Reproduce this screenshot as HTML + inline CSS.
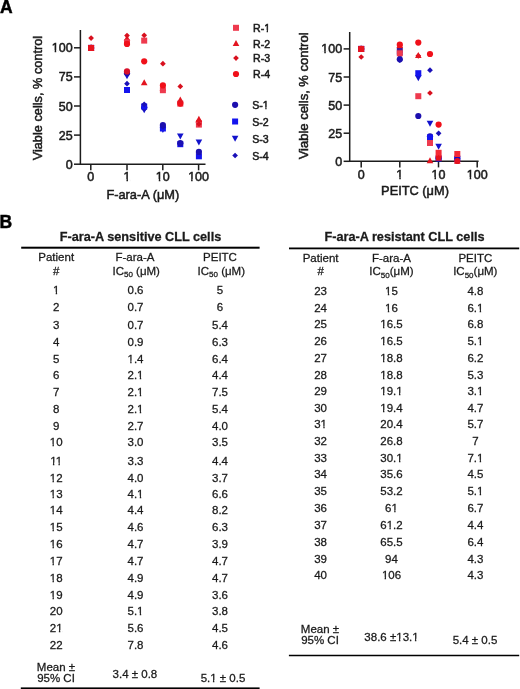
<!DOCTYPE html>
<html><head><meta charset="utf-8"><style>
html,body{margin:0;padding:0;background:#fff;}
body{width:520px;height:689px;overflow:hidden;}
svg{display:block;filter:blur(0.35px);font-family:"Liberation Sans", sans-serif;fill:#1a1a1a;}
text{stroke:#1a1a1a;stroke-width:0.28px;}
text.c{stroke-width:0.5px;}
</style></head><body>
<svg width="520" height="689" viewBox="0 0 520 689">
<text x="0.10" y="12.80" font-size="17.5" text-anchor="start" font-weight="bold" style="stroke:#000;stroke-width:0.45px;fill:#000">A</text>
<text x="-0.40" y="227.50" font-size="17.5" text-anchor="start" font-weight="bold" style="stroke:#000;stroke-width:0.45px;fill:#000">B</text>
<path d="M80.4 30 V164.2 H205.5" stroke="#1c1c1c" stroke-width="1.5" fill="none"/>
<path d="M74 164.20 H80.4" stroke="#1c1c1c" stroke-width="1.5"/>
<text x="72.60" y="168.70" font-size="12.5" text-anchor="end" font-weight="normal" class="c">0</text>
<path d="M74 135.10 H80.4" stroke="#1c1c1c" stroke-width="1.5"/>
<text x="72.60" y="139.60" font-size="12.5" text-anchor="end" font-weight="normal" class="c">25</text>
<path d="M74 106.00 H80.4" stroke="#1c1c1c" stroke-width="1.5"/>
<text x="72.60" y="110.50" font-size="12.5" text-anchor="end" font-weight="normal" class="c">50</text>
<path d="M74 76.90 H80.4" stroke="#1c1c1c" stroke-width="1.5"/>
<text x="72.60" y="81.40" font-size="12.5" text-anchor="end" font-weight="normal" class="c">75</text>
<path d="M74 47.80 H80.4" stroke="#1c1c1c" stroke-width="1.5"/>
<text x="72.60" y="52.30" font-size="12.5" text-anchor="end" font-weight="normal" class="c">100</text>
<path d="M90.8 164.2 V170.3" stroke="#1c1c1c" stroke-width="1.5"/>
<text x="90.80" y="181.20" font-size="12.5" text-anchor="middle" font-weight="normal" class="c">0</text>
<path d="M127.0 164.2 V170.3" stroke="#1c1c1c" stroke-width="1.5"/>
<text x="127.00" y="181.20" font-size="12.5" text-anchor="middle" font-weight="normal" class="c">1</text>
<path d="M162.8 164.2 V170.3" stroke="#1c1c1c" stroke-width="1.5"/>
<text x="162.80" y="181.20" font-size="12.5" text-anchor="middle" font-weight="normal" class="c">10</text>
<path d="M198.6 164.2 V170.3" stroke="#1c1c1c" stroke-width="1.5"/>
<text x="198.60" y="181.20" font-size="12.5" text-anchor="middle" font-weight="normal" class="c">100</text>
<text x="142.80" y="198.60" font-size="12.8" text-anchor="middle" font-weight="normal" class="c">F-ara-A (μM)</text>
<text x="41.60" y="98.10" font-size="12.75" text-anchor="middle" font-weight="normal" class="c" transform="rotate(-90 41.6 98.1)">Viable cells, % control</text>
<circle cx="91.10" cy="47.90" r="3.10" fill="#1c0fae"/>
<rect x="88.10" y="44.90" width="6.00" height="6.00" fill="#1414ee"/>
<path d="M91.10 51.10L94.40 45.10L87.80 45.10Z" fill="#1212cc"/>
<path d="M91.10 45.05L93.95 47.90L91.10 50.75L88.25 47.90Z" fill="#1a10b8"/>
<path d="M91.10 44.70L94.40 50.70L87.80 50.70Z" fill="#e3141f"/>
<circle cx="91.10" cy="47.90" r="3.10" fill="#f0101a"/>
<path d="M91.10 35.25L93.95 38.10L91.10 40.95L88.25 38.10Z" fill="#d8101e"/>
<rect x="88.10" y="44.90" width="6.00" height="6.00" fill="#e8141e"/>
<path d="M127.00 35.00L130.30 41.00L123.70 41.00Z" fill="#e3141f"/>
<path d="M127.00 32.75L129.85 35.60L127.00 38.45L124.15 35.60Z" fill="#d8101e"/>
<rect x="124.00" y="39.20" width="6.00" height="6.00" fill="#ee3a4e"/>
<circle cx="127.00" cy="43.90" r="3.10" fill="#f0101a"/>
<path d="M127.00 79.20L130.30 73.20L123.70 73.20Z" fill="#1212cc"/>
<circle cx="127.00" cy="73.00" r="3.10" fill="#1c0fae"/>
<circle cx="127.00" cy="71.40" r="3.10" fill="#d8102a"/>
<path d="M127.00 80.85L129.85 83.70L127.00 86.55L124.15 83.70Z" fill="#1a10b8"/>
<rect x="124.00" y="87.00" width="6.00" height="6.00" fill="#1414ee"/>
<path d="M144.20 32.45L147.05 35.30L144.20 38.15L141.35 35.30Z" fill="#d8101e"/>
<rect x="141.20" y="37.60" width="6.00" height="6.00" fill="#ee3a4e"/>
<circle cx="144.20" cy="61.30" r="3.10" fill="#f0101a"/>
<path d="M144.20 79.20L147.50 85.20L140.90 85.20Z" fill="#e3141f"/>
<path d="M144.20 113.20L147.50 107.20L140.90 107.20Z" fill="#1212cc"/>
<circle cx="144.20" cy="107.50" r="3.10" fill="#1c0fae"/>
<rect x="141.20" y="103.50" width="6.00" height="6.00" fill="#1414ee"/>
<path d="M144.20 101.45L147.05 104.30L144.20 107.15L141.35 104.30Z" fill="#1a10b8"/>
<path d="M162.90 60.85L165.75 63.70L162.90 66.55L160.05 63.70Z" fill="#d8101e"/>
<path d="M162.90 84.80L166.20 90.80L159.60 90.80Z" fill="#e3141f"/>
<rect x="159.90" y="87.20" width="6.00" height="6.00" fill="#ee3a4e"/>
<circle cx="162.90" cy="85.40" r="3.10" fill="#f0101a"/>
<path d="M162.90 132.90L166.20 126.90L159.60 126.90Z" fill="#1212cc"/>
<rect x="159.90" y="125.50" width="6.00" height="6.00" fill="#1414ee"/>
<path d="M162.90 124.15L165.75 127.00L162.90 129.85L160.05 127.00Z" fill="#1a10b8"/>
<circle cx="162.90" cy="125.10" r="3.10" fill="#1c0fae"/>
<path d="M180.30 83.55L183.15 86.40L180.30 89.25L177.45 86.40Z" fill="#d8101e"/>
<rect x="177.30" y="100.60" width="6.00" height="6.00" fill="#ee3a4e"/>
<circle cx="180.30" cy="103.60" r="3.10" fill="#f0101a"/>
<path d="M180.30 96.60L183.60 102.60L177.00 102.60Z" fill="#e3141f"/>
<path d="M180.30 139.50L183.60 133.50L177.00 133.50Z" fill="#1212cc"/>
<rect x="177.30" y="141.20" width="6.00" height="6.00" fill="#1414ee"/>
<circle cx="180.30" cy="143.20" r="3.10" fill="#1c0fae"/>
<path d="M180.30 140.95L183.15 143.80L180.30 146.65L177.45 143.80Z" fill="#1a10b8"/>
<circle cx="198.90" cy="122.30" r="3.10" fill="#f0101a"/>
<rect x="195.90" y="121.60" width="6.00" height="6.00" fill="#ee3a4e"/>
<path d="M198.90 121.15L201.75 124.00L198.90 126.85L196.05 124.00Z" fill="#d8101e"/>
<path d="M198.90 115.70L202.20 121.70L195.60 121.70Z" fill="#e3141f"/>
<path d="M198.90 145.40L202.20 139.40L195.60 139.40Z" fill="#1212cc"/>
<path d="M198.90 152.15L201.75 155.00L198.90 157.85L196.05 155.00Z" fill="#1a10b8"/>
<rect x="195.90" y="153.30" width="6.00" height="6.00" fill="#1414ee"/>
<circle cx="198.90" cy="151.90" r="3.10" fill="#1c0fae"/>
<rect x="233.00" y="24.80" width="6.00" height="6.00" fill="#ee3a4e"/>
<text x="253.00" y="32.10" font-size="10.6" text-anchor="start" font-weight="normal" class="c">R-1</text>
<path d="M236.00 40.00L239.30 46.00L232.70 46.00Z" fill="#e3141f"/>
<text x="253.00" y="47.50" font-size="10.6" text-anchor="start" font-weight="normal" class="c">R-2</text>
<path d="M236.00 55.25L238.85 58.10L236.00 60.95L233.15 58.10Z" fill="#d8101e"/>
<text x="253.00" y="62.40" font-size="10.6" text-anchor="start" font-weight="normal" class="c">R-3</text>
<circle cx="236.00" cy="74.00" r="3.10" fill="#f0101a"/>
<text x="253.00" y="78.30" font-size="10.6" text-anchor="start" font-weight="normal" class="c">R-4</text>
<circle cx="235.10" cy="104.80" r="3.10" fill="#1c0fae"/>
<text x="252.20" y="109.10" font-size="10.6" text-anchor="start" font-weight="normal" class="c">S-1</text>
<rect x="232.10" y="118.50" width="6.00" height="6.00" fill="#1414ee"/>
<text x="252.20" y="125.80" font-size="10.6" text-anchor="start" font-weight="normal" class="c">S-2</text>
<path d="M235.10 141.70L238.40 135.70L231.80 135.70Z" fill="#1212cc"/>
<text x="252.20" y="142.80" font-size="10.6" text-anchor="start" font-weight="normal" class="c">S-3</text>
<path d="M235.10 152.65L237.95 155.50L235.10 158.35L232.25 155.50Z" fill="#1a10b8"/>
<text x="252.20" y="159.80" font-size="10.6" text-anchor="start" font-weight="normal" class="c">S-4</text>
<path d="M349.7 32 V161.3 H478.6" stroke="#1c1c1c" stroke-width="1.5" fill="none"/>
<path d="M343.6 161.30 H349.7" stroke="#1c1c1c" stroke-width="1.5"/>
<text x="342.20" y="165.80" font-size="12.5" text-anchor="end" font-weight="normal" class="c">0</text>
<path d="M343.6 133.20 H349.7" stroke="#1c1c1c" stroke-width="1.5"/>
<text x="342.20" y="137.70" font-size="12.5" text-anchor="end" font-weight="normal" class="c">25</text>
<path d="M343.6 105.10 H349.7" stroke="#1c1c1c" stroke-width="1.5"/>
<text x="342.20" y="109.60" font-size="12.5" text-anchor="end" font-weight="normal" class="c">50</text>
<path d="M343.6 77.00 H349.7" stroke="#1c1c1c" stroke-width="1.5"/>
<text x="342.20" y="81.50" font-size="12.5" text-anchor="end" font-weight="normal" class="c">75</text>
<path d="M343.6 48.90 H349.7" stroke="#1c1c1c" stroke-width="1.5"/>
<text x="342.20" y="53.40" font-size="12.5" text-anchor="end" font-weight="normal" class="c">100</text>
<path d="M361.2 161.3 V167.4" stroke="#1c1c1c" stroke-width="1.5"/>
<text x="361.20" y="179.20" font-size="12.5" text-anchor="middle" font-weight="normal" class="c">0</text>
<path d="M399.8 161.3 V167.4" stroke="#1c1c1c" stroke-width="1.5"/>
<text x="399.80" y="179.20" font-size="12.5" text-anchor="middle" font-weight="normal" class="c">1</text>
<path d="M438.5 161.3 V167.4" stroke="#1c1c1c" stroke-width="1.5"/>
<text x="438.50" y="179.20" font-size="12.5" text-anchor="middle" font-weight="normal" class="c">10</text>
<path d="M477.2 161.3 V167.4" stroke="#1c1c1c" stroke-width="1.5"/>
<text x="477.20" y="179.20" font-size="12.5" text-anchor="middle" font-weight="normal" class="c">100</text>
<text x="415.00" y="194.60" font-size="12.8" text-anchor="middle" font-weight="normal" class="c">PEITC (μM)</text>
<text x="307.80" y="95.90" font-size="13.0" text-anchor="middle" font-weight="normal" class="c" transform="rotate(-90 307.8 95.9)">Viable cells, % control</text>
<circle cx="361.20" cy="48.90" r="3.10" fill="#1c0fae"/>
<rect x="358.20" y="45.90" width="6.00" height="6.00" fill="#1414ee"/>
<path d="M361.20 52.10L364.50 46.10L357.90 46.10Z" fill="#1212cc"/>
<path d="M361.20 46.05L364.05 48.90L361.20 51.75L358.35 48.90Z" fill="#1a10b8"/>
<path d="M361.20 45.70L364.50 51.70L357.90 51.70Z" fill="#e3141f"/>
<circle cx="361.20" cy="48.90" r="3.10" fill="#f0101a"/>
<path d="M361.20 54.15L364.05 57.00L361.20 59.85L358.35 57.00Z" fill="#d8101e"/>
<rect x="358.20" y="45.90" width="6.00" height="6.00" fill="#e8141e"/>
<path d="M399.80 59.70L403.10 53.70L396.50 53.70Z" fill="#1212cc"/>
<path d="M399.80 57.35L402.65 60.20L399.80 63.05L396.95 60.20Z" fill="#1a10b8"/>
<circle cx="399.80" cy="59.30" r="3.10" fill="#1c0fae"/>
<rect x="396.80" y="47.50" width="6.00" height="6.00" fill="#4a1890"/>
<path d="M399.80 42.00L403.10 48.00L396.50 48.00Z" fill="#e3141f"/>
<path d="M399.80 42.65L402.65 45.50L399.80 48.35L396.95 45.50Z" fill="#d8101e"/>
<circle cx="399.80" cy="44.70" r="3.10" fill="#f0101a"/>
<rect x="396.80" y="50.30" width="6.00" height="6.00" fill="#ee3a4e"/>
<circle cx="418.30" cy="42.60" r="3.10" fill="#f0101a"/>
<path d="M418.30 52.95L421.15 55.80L418.30 58.65L415.45 55.80Z" fill="#d8101e"/>
<path d="M418.30 52.00L421.60 58.00L415.00 58.00Z" fill="#e3141f"/>
<path d="M418.30 72.65L421.15 75.50L418.30 78.35L415.45 75.50Z" fill="#1a10b8"/>
<path d="M418.30 81.30L421.60 75.30L415.00 75.30Z" fill="#1212cc"/>
<rect x="415.30" y="70.20" width="6.00" height="6.00" fill="#1414ee"/>
<rect x="415.30" y="93.20" width="6.00" height="6.00" fill="#ee3a4e"/>
<circle cx="418.30" cy="116.00" r="3.10" fill="#1c0fae"/>
<circle cx="430.00" cy="54.00" r="3.10" fill="#f0101a"/>
<path d="M430.00 67.35L432.85 70.20L430.00 73.05L427.15 70.20Z" fill="#1a10b8"/>
<path d="M430.00 90.15L432.85 93.00L430.00 95.85L427.15 93.00Z" fill="#d8101e"/>
<path d="M430.00 126.70L433.30 120.70L426.70 120.70Z" fill="#1212cc"/>
<circle cx="430.00" cy="136.30" r="3.10" fill="#1c0fae"/>
<rect x="427.00" y="134.50" width="6.00" height="6.00" fill="#1414ee"/>
<rect x="427.00" y="140.00" width="6.00" height="6.00" fill="#ee3a4e"/>
<path d="M430.00 157.20L433.30 163.20L426.70 163.20Z" fill="#e3141f"/>
<circle cx="438.60" cy="124.60" r="3.10" fill="#f0101a"/>
<path d="M438.60 130.45L441.45 133.30L438.60 136.15L435.75 133.30Z" fill="#1a10b8"/>
<path d="M438.60 149.80L441.90 143.80L435.30 143.80Z" fill="#1212cc"/>
<circle cx="438.60" cy="158.30" r="3.10" fill="#1c0fae"/>
<rect x="435.60" y="155.50" width="6.00" height="6.00" fill="#1414ee"/>
<path d="M438.60 153.15L441.45 156.00L438.60 158.85L435.75 156.00Z" fill="#d8101e"/>
<circle cx="438.60" cy="157.00" r="3.10" fill="#f0101a"/>
<rect x="435.60" y="149.80" width="6.00" height="6.00" fill="#f42a36"/>
<path d="M438.60 154.80L441.90 160.80L435.30 160.80Z" fill="#e3141f"/>
<circle cx="457.30" cy="158.50" r="3.10" fill="#1c0fae"/>
<rect x="454.30" y="156.00" width="6.00" height="6.00" fill="#1414ee"/>
<path d="M457.30 161.70L460.60 155.70L454.00 155.70Z" fill="#1212cc"/>
<path d="M457.30 155.65L460.15 158.50L457.30 161.35L454.45 158.50Z" fill="#1a10b8"/>
<rect x="454.30" y="151.00" width="6.00" height="6.00" fill="#f42a36"/>
<circle cx="457.30" cy="161.00" r="3.10" fill="#e0102a"/>
<path d="M457.30 157.80L460.60 163.80L454.00 163.80Z" fill="#e3141f"/>
<text x="140.50" y="240.50" font-size="12.7" text-anchor="middle" font-weight="bold" >F-ara-A sensitive CLL cells</text>
<rect x="21.2" y="246.70" width="238.40000000000003" height="2.0" fill="#000"/>
<text x="56.20" y="261.00" font-size="11.5" text-anchor="middle" font-weight="normal" >Patient</text>
<text x="56.20" y="274.60" font-size="11.5" text-anchor="middle" font-weight="normal" >#</text>
<text x="135.00" y="261.00" font-size="11.5" text-anchor="middle" font-weight="normal" >F-ara-A</text>
<text x="220.00" y="261.00" font-size="11.5" text-anchor="middle" font-weight="normal" >PEITC</text>
<text x="136.20" y="274.60" font-size="11.5" text-anchor="middle">IC<tspan font-size="8" dy="2.8">50</tspan><tspan dy="-2.8"> (μM)</tspan></text>
<text x="221.30" y="274.60" font-size="11.5" text-anchor="middle">IC<tspan font-size="8" dy="2.8">50</tspan><tspan dy="-2.8"> (μM)</tspan></text>
<text x="56.20" y="293.90" font-size="11.5" text-anchor="middle" font-weight="normal" >1</text>
<text x="135.50" y="293.90" font-size="11.5" text-anchor="middle" font-weight="normal" >0.6</text>
<text x="220.00" y="293.90" font-size="11.5" text-anchor="middle" font-weight="normal" >5</text>
<text x="56.20" y="311.34" font-size="11.5" text-anchor="middle" font-weight="normal" >2</text>
<text x="135.50" y="311.34" font-size="11.5" text-anchor="middle" font-weight="normal" >0.7</text>
<text x="220.00" y="311.34" font-size="11.5" text-anchor="middle" font-weight="normal" >6</text>
<text x="56.20" y="328.98" font-size="11.5" text-anchor="middle" font-weight="normal" >3</text>
<text x="135.50" y="328.98" font-size="11.5" text-anchor="middle" font-weight="normal" >0.7</text>
<text x="220.00" y="328.98" font-size="11.5" text-anchor="middle" font-weight="normal" >5.4</text>
<text x="56.20" y="345.82" font-size="11.5" text-anchor="middle" font-weight="normal" >4</text>
<text x="135.50" y="345.82" font-size="11.5" text-anchor="middle" font-weight="normal" >0.9</text>
<text x="220.00" y="345.82" font-size="11.5" text-anchor="middle" font-weight="normal" >6.3</text>
<text x="56.20" y="362.66" font-size="11.5" text-anchor="middle" font-weight="normal" >5</text>
<text x="135.50" y="362.66" font-size="11.5" text-anchor="middle" font-weight="normal" >1.4</text>
<text x="220.00" y="362.66" font-size="11.5" text-anchor="middle" font-weight="normal" >6.4</text>
<text x="56.20" y="379.00" font-size="11.5" text-anchor="middle" font-weight="normal" >6</text>
<text x="135.50" y="379.00" font-size="11.5" text-anchor="middle" font-weight="normal" >2.1</text>
<text x="220.00" y="379.00" font-size="11.5" text-anchor="middle" font-weight="normal" >4.4</text>
<text x="56.20" y="395.94" font-size="11.5" text-anchor="middle" font-weight="normal" >7</text>
<text x="135.50" y="395.94" font-size="11.5" text-anchor="middle" font-weight="normal" >2.1</text>
<text x="220.00" y="395.94" font-size="11.5" text-anchor="middle" font-weight="normal" >7.5</text>
<text x="56.20" y="413.18" font-size="11.5" text-anchor="middle" font-weight="normal" >8</text>
<text x="135.50" y="413.18" font-size="11.5" text-anchor="middle" font-weight="normal" >2.1</text>
<text x="220.00" y="413.18" font-size="11.5" text-anchor="middle" font-weight="normal" >5.4</text>
<text x="56.20" y="430.32" font-size="11.5" text-anchor="middle" font-weight="normal" >9</text>
<text x="135.50" y="430.32" font-size="11.5" text-anchor="middle" font-weight="normal" >2.7</text>
<text x="220.00" y="430.32" font-size="11.5" text-anchor="middle" font-weight="normal" >4.0</text>
<text x="56.20" y="446.36" font-size="11.5" text-anchor="middle" font-weight="normal" >10</text>
<text x="135.50" y="446.36" font-size="11.5" text-anchor="middle" font-weight="normal" >3.0</text>
<text x="220.00" y="446.36" font-size="11.5" text-anchor="middle" font-weight="normal" >3.5</text>
<text x="56.20" y="464.60" font-size="11.5" text-anchor="middle" font-weight="normal" >11</text>
<text x="135.50" y="464.60" font-size="11.5" text-anchor="middle" font-weight="normal" >3.3</text>
<text x="220.00" y="464.60" font-size="11.5" text-anchor="middle" font-weight="normal" >4.4</text>
<text x="56.20" y="481.54" font-size="11.5" text-anchor="middle" font-weight="normal" >12</text>
<text x="135.50" y="481.54" font-size="11.5" text-anchor="middle" font-weight="normal" >4.0</text>
<text x="220.00" y="481.54" font-size="11.5" text-anchor="middle" font-weight="normal" >3.7</text>
<text x="56.20" y="497.58" font-size="11.5" text-anchor="middle" font-weight="normal" >13</text>
<text x="135.50" y="497.58" font-size="11.5" text-anchor="middle" font-weight="normal" >4.1</text>
<text x="220.00" y="497.58" font-size="11.5" text-anchor="middle" font-weight="normal" >6.6</text>
<text x="56.20" y="514.42" font-size="11.5" text-anchor="middle" font-weight="normal" >14</text>
<text x="135.50" y="514.42" font-size="11.5" text-anchor="middle" font-weight="normal" >4.4</text>
<text x="220.00" y="514.42" font-size="11.5" text-anchor="middle" font-weight="normal" >8.2</text>
<text x="56.20" y="531.06" font-size="11.5" text-anchor="middle" font-weight="normal" >15</text>
<text x="135.50" y="531.06" font-size="11.5" text-anchor="middle" font-weight="normal" >4.6</text>
<text x="220.00" y="531.06" font-size="11.5" text-anchor="middle" font-weight="normal" >6.3</text>
<text x="56.20" y="547.80" font-size="11.5" text-anchor="middle" font-weight="normal" >16</text>
<text x="135.50" y="547.80" font-size="11.5" text-anchor="middle" font-weight="normal" >4.7</text>
<text x="220.00" y="547.80" font-size="11.5" text-anchor="middle" font-weight="normal" >3.9</text>
<text x="56.20" y="564.94" font-size="11.5" text-anchor="middle" font-weight="normal" >17</text>
<text x="135.50" y="564.94" font-size="11.5" text-anchor="middle" font-weight="normal" >4.7</text>
<text x="220.00" y="564.94" font-size="11.5" text-anchor="middle" font-weight="normal" >4.7</text>
<text x="56.20" y="581.88" font-size="11.5" text-anchor="middle" font-weight="normal" >18</text>
<text x="135.50" y="581.88" font-size="11.5" text-anchor="middle" font-weight="normal" >4.9</text>
<text x="220.00" y="581.88" font-size="11.5" text-anchor="middle" font-weight="normal" >4.7</text>
<text x="56.20" y="598.82" font-size="11.5" text-anchor="middle" font-weight="normal" >19</text>
<text x="135.50" y="598.82" font-size="11.5" text-anchor="middle" font-weight="normal" >4.9</text>
<text x="220.00" y="598.82" font-size="11.5" text-anchor="middle" font-weight="normal" >3.6</text>
<text x="56.20" y="615.26" font-size="11.5" text-anchor="middle" font-weight="normal" >20</text>
<text x="135.50" y="615.26" font-size="11.5" text-anchor="middle" font-weight="normal" >5.1</text>
<text x="220.00" y="615.26" font-size="11.5" text-anchor="middle" font-weight="normal" >3.8</text>
<text x="56.20" y="632.10" font-size="11.5" text-anchor="middle" font-weight="normal" >21</text>
<text x="135.50" y="632.10" font-size="11.5" text-anchor="middle" font-weight="normal" >5.6</text>
<text x="220.00" y="632.10" font-size="11.5" text-anchor="middle" font-weight="normal" >4.5</text>
<text x="56.20" y="649.34" font-size="11.5" text-anchor="middle" font-weight="normal" >22</text>
<text x="135.50" y="649.34" font-size="11.5" text-anchor="middle" font-weight="normal" >7.8</text>
<text x="220.00" y="649.34" font-size="11.5" text-anchor="middle" font-weight="normal" >4.6</text>
<text x="56.00" y="670.50" font-size="11.5" text-anchor="middle" font-weight="normal" >Mean ±</text>
<text x="56.00" y="681.50" font-size="11.5" text-anchor="middle" font-weight="normal" >95% CI</text>
<text x="134.90" y="677.80" font-size="11.5" text-anchor="middle" font-weight="normal" >3.4 ± 0.8</text>
<text x="223.00" y="682.00" font-size="11.5" text-anchor="middle" font-weight="normal" >5.1 ± 0.5</text>
<rect x="20.8" y="687.40" width="238.8" height="2.0" fill="#000"/>
<text x="404.50" y="241.40" font-size="12.7" text-anchor="middle" font-weight="bold" >F-ara-A resistant CLL cells</text>
<rect x="289.0" y="247.50" width="230.20000000000005" height="1.8" fill="#000"/>
<text x="320.60" y="261.70" font-size="11.5" text-anchor="middle" font-weight="normal" >Patient</text>
<text x="320.60" y="275.00" font-size="11.5" text-anchor="middle" font-weight="normal" >#</text>
<text x="391.50" y="261.70" font-size="11.5" text-anchor="middle" font-weight="normal" >F-ara-A</text>
<text x="475.40" y="261.70" font-size="11.5" text-anchor="middle" font-weight="normal" >PEITC</text>
<text x="391.50" y="275.00" font-size="11.5" text-anchor="middle">IC<tspan font-size="8" dy="2.8">50</tspan><tspan dy="-2.8">(μM)</tspan></text>
<text x="475.30" y="275.00" font-size="11.5" text-anchor="middle">IC<tspan font-size="8" dy="2.8">50</tspan><tspan dy="-2.8">(μM)</tspan></text>
<text x="320.60" y="294.80" font-size="11.5" text-anchor="middle" font-weight="normal" >23</text>
<text x="391.50" y="294.80" font-size="11.5" text-anchor="middle" font-weight="normal" >15</text>
<text x="475.40" y="294.80" font-size="11.5" text-anchor="middle" font-weight="normal" >4.8</text>
<text x="320.60" y="311.54" font-size="11.5" text-anchor="middle" font-weight="normal" >24</text>
<text x="391.50" y="311.54" font-size="11.5" text-anchor="middle" font-weight="normal" >16</text>
<text x="475.40" y="311.54" font-size="11.5" text-anchor="middle" font-weight="normal" >6.1</text>
<text x="320.60" y="328.28" font-size="11.5" text-anchor="middle" font-weight="normal" >25</text>
<text x="391.50" y="328.28" font-size="11.5" text-anchor="middle" font-weight="normal" >16.5</text>
<text x="475.40" y="328.28" font-size="11.5" text-anchor="middle" font-weight="normal" >6.8</text>
<text x="320.60" y="345.02" font-size="11.5" text-anchor="middle" font-weight="normal" >26</text>
<text x="391.50" y="345.02" font-size="11.5" text-anchor="middle" font-weight="normal" >16.5</text>
<text x="475.40" y="345.02" font-size="11.5" text-anchor="middle" font-weight="normal" >5.1</text>
<text x="320.60" y="361.76" font-size="11.5" text-anchor="middle" font-weight="normal" >27</text>
<text x="391.50" y="361.76" font-size="11.5" text-anchor="middle" font-weight="normal" >18.8</text>
<text x="475.40" y="361.76" font-size="11.5" text-anchor="middle" font-weight="normal" >6.2</text>
<text x="320.60" y="378.50" font-size="11.5" text-anchor="middle" font-weight="normal" >28</text>
<text x="391.50" y="378.50" font-size="11.5" text-anchor="middle" font-weight="normal" >18.8</text>
<text x="475.40" y="378.50" font-size="11.5" text-anchor="middle" font-weight="normal" >5.3</text>
<text x="320.60" y="394.94" font-size="11.5" text-anchor="middle" font-weight="normal" >29</text>
<text x="391.50" y="394.94" font-size="11.5" text-anchor="middle" font-weight="normal" >19.1</text>
<text x="475.40" y="394.94" font-size="11.5" text-anchor="middle" font-weight="normal" >3.1</text>
<text x="320.60" y="411.98" font-size="11.5" text-anchor="middle" font-weight="normal" >30</text>
<text x="391.50" y="411.98" font-size="11.5" text-anchor="middle" font-weight="normal" >19.4</text>
<text x="475.40" y="411.98" font-size="11.5" text-anchor="middle" font-weight="normal" >4.7</text>
<text x="320.60" y="427.92" font-size="11.5" text-anchor="middle" font-weight="normal" >31</text>
<text x="391.50" y="427.92" font-size="11.5" text-anchor="middle" font-weight="normal" >20.4</text>
<text x="475.40" y="427.92" font-size="11.5" text-anchor="middle" font-weight="normal" >5.7</text>
<text x="320.60" y="444.96" font-size="11.5" text-anchor="middle" font-weight="normal" >32</text>
<text x="391.50" y="444.96" font-size="11.5" text-anchor="middle" font-weight="normal" >26.8</text>
<text x="475.40" y="444.96" font-size="11.5" text-anchor="middle" font-weight="normal" >7</text>
<text x="320.60" y="461.70" font-size="11.5" text-anchor="middle" font-weight="normal" >33</text>
<text x="391.50" y="461.70" font-size="11.5" text-anchor="middle" font-weight="normal" >30.1</text>
<text x="475.40" y="461.70" font-size="11.5" text-anchor="middle" font-weight="normal" >7.1</text>
<text x="320.60" y="477.84" font-size="11.5" text-anchor="middle" font-weight="normal" >34</text>
<text x="391.50" y="477.84" font-size="11.5" text-anchor="middle" font-weight="normal" >35.6</text>
<text x="475.40" y="477.84" font-size="11.5" text-anchor="middle" font-weight="normal" >4.5</text>
<text x="320.60" y="494.68" font-size="11.5" text-anchor="middle" font-weight="normal" >35</text>
<text x="391.50" y="494.68" font-size="11.5" text-anchor="middle" font-weight="normal" >53.2</text>
<text x="475.40" y="494.68" font-size="11.5" text-anchor="middle" font-weight="normal" >5.1</text>
<text x="320.60" y="512.12" font-size="11.5" text-anchor="middle" font-weight="normal" >36</text>
<text x="391.50" y="512.12" font-size="11.5" text-anchor="middle" font-weight="normal" >61</text>
<text x="475.40" y="512.12" font-size="11.5" text-anchor="middle" font-weight="normal" >6.7</text>
<text x="320.60" y="529.16" font-size="11.5" text-anchor="middle" font-weight="normal" >37</text>
<text x="391.50" y="529.16" font-size="11.5" text-anchor="middle" font-weight="normal" >61.2</text>
<text x="475.40" y="529.16" font-size="11.5" text-anchor="middle" font-weight="normal" >4.4</text>
<text x="320.60" y="545.90" font-size="11.5" text-anchor="middle" font-weight="normal" >38</text>
<text x="391.50" y="545.90" font-size="11.5" text-anchor="middle" font-weight="normal" >65.5</text>
<text x="475.40" y="545.90" font-size="11.5" text-anchor="middle" font-weight="normal" >6.4</text>
<text x="320.60" y="562.64" font-size="11.5" text-anchor="middle" font-weight="normal" >39</text>
<text x="391.50" y="562.64" font-size="11.5" text-anchor="middle" font-weight="normal" >94</text>
<text x="475.40" y="562.64" font-size="11.5" text-anchor="middle" font-weight="normal" >4.3</text>
<text x="320.60" y="579.38" font-size="11.5" text-anchor="middle" font-weight="normal" >40</text>
<text x="391.50" y="579.38" font-size="11.5" text-anchor="middle" font-weight="normal" >106</text>
<text x="475.40" y="579.38" font-size="11.5" text-anchor="middle" font-weight="normal" >4.3</text>
<text x="320.00" y="633.10" font-size="11.5" text-anchor="middle" font-weight="normal" >Mean ±</text>
<text x="320.00" y="644.20" font-size="11.5" text-anchor="middle" font-weight="normal" >95% CI</text>
<text x="391.50" y="640.80" font-size="11.5" text-anchor="middle" font-weight="normal" >38.6 ±13.1</text>
<text x="475.00" y="643.80" font-size="11.5" text-anchor="middle" font-weight="normal" >5.4 ± 0.5</text>
<rect x="288.9" y="654.75" width="230.30000000000007" height="1.5" fill="#000"/>
<rect x="51.69" y="50.17" width="2.97" height="3.53" fill="#fff"/>
<rect x="56.21" y="50.17" width="2.67" height="3.53" fill="#fff"/>
<rect x="123.48" y="179.07" width="2.97" height="3.53" fill="#fff"/>
<rect x="127.99" y="179.07" width="2.67" height="3.53" fill="#fff"/>
<rect x="155.80" y="179.07" width="2.97" height="3.53" fill="#fff"/>
<rect x="160.31" y="179.07" width="2.67" height="3.53" fill="#fff"/>
<rect x="188.12" y="179.07" width="2.97" height="3.53" fill="#fff"/>
<rect x="192.64" y="179.07" width="2.67" height="3.53" fill="#fff"/>
<rect x="263.98" y="30.11" width="2.64" height="3.39" fill="#fff"/>
<rect x="267.99" y="30.11" width="2.36" height="3.39" fill="#fff"/>
<rect x="262.60" y="107.11" width="2.64" height="3.39" fill="#fff"/>
<rect x="266.62" y="107.11" width="2.36" height="3.39" fill="#fff"/>
<rect x="321.29" y="51.27" width="2.97" height="3.53" fill="#fff"/>
<rect x="325.81" y="51.27" width="2.67" height="3.53" fill="#fff"/>
<rect x="396.28" y="177.07" width="2.97" height="3.53" fill="#fff"/>
<rect x="400.79" y="177.07" width="2.67" height="3.53" fill="#fff"/>
<rect x="431.50" y="177.07" width="2.97" height="3.53" fill="#fff"/>
<rect x="436.01" y="177.07" width="2.67" height="3.53" fill="#fff"/>
<rect x="466.72" y="177.07" width="2.97" height="3.53" fill="#fff"/>
<rect x="471.24" y="177.07" width="2.67" height="3.53" fill="#fff"/>
<rect x="52.87" y="291.84" width="2.80" height="3.46" fill="#fff"/>
<rect x="57.13" y="291.84" width="2.51" height="3.46" fill="#fff"/>
<rect x="127.38" y="360.60" width="2.80" height="3.46" fill="#fff"/>
<rect x="131.63" y="360.60" width="2.51" height="3.46" fill="#fff"/>
<rect x="136.95" y="376.94" width="2.80" height="3.46" fill="#fff"/>
<rect x="141.21" y="376.94" width="2.51" height="3.46" fill="#fff"/>
<rect x="136.95" y="393.88" width="2.80" height="3.46" fill="#fff"/>
<rect x="141.21" y="393.88" width="2.51" height="3.46" fill="#fff"/>
<rect x="136.95" y="411.12" width="2.80" height="3.46" fill="#fff"/>
<rect x="141.21" y="411.12" width="2.51" height="3.46" fill="#fff"/>
<rect x="49.68" y="444.30" width="2.80" height="3.46" fill="#fff"/>
<rect x="53.93" y="444.30" width="2.51" height="3.46" fill="#fff"/>
<rect x="50.10" y="462.54" width="2.80" height="3.46" fill="#fff"/>
<rect x="54.35" y="462.54" width="2.51" height="3.46" fill="#fff"/>
<rect x="55.63" y="462.54" width="2.80" height="3.46" fill="#fff"/>
<rect x="59.88" y="462.54" width="2.51" height="3.46" fill="#fff"/>
<rect x="49.68" y="479.48" width="2.80" height="3.46" fill="#fff"/>
<rect x="53.93" y="479.48" width="2.51" height="3.46" fill="#fff"/>
<rect x="49.68" y="495.52" width="2.80" height="3.46" fill="#fff"/>
<rect x="53.93" y="495.52" width="2.51" height="3.46" fill="#fff"/>
<rect x="136.95" y="495.52" width="2.80" height="3.46" fill="#fff"/>
<rect x="141.21" y="495.52" width="2.51" height="3.46" fill="#fff"/>
<rect x="49.68" y="512.36" width="2.80" height="3.46" fill="#fff"/>
<rect x="53.93" y="512.36" width="2.51" height="3.46" fill="#fff"/>
<rect x="49.68" y="529.00" width="2.80" height="3.46" fill="#fff"/>
<rect x="53.93" y="529.00" width="2.51" height="3.46" fill="#fff"/>
<rect x="49.68" y="545.74" width="2.80" height="3.46" fill="#fff"/>
<rect x="53.93" y="545.74" width="2.51" height="3.46" fill="#fff"/>
<rect x="49.68" y="562.88" width="2.80" height="3.46" fill="#fff"/>
<rect x="53.93" y="562.88" width="2.51" height="3.46" fill="#fff"/>
<rect x="49.68" y="579.82" width="2.80" height="3.46" fill="#fff"/>
<rect x="53.93" y="579.82" width="2.51" height="3.46" fill="#fff"/>
<rect x="49.68" y="596.76" width="2.80" height="3.46" fill="#fff"/>
<rect x="53.93" y="596.76" width="2.51" height="3.46" fill="#fff"/>
<rect x="136.95" y="613.20" width="2.80" height="3.46" fill="#fff"/>
<rect x="141.21" y="613.20" width="2.51" height="3.46" fill="#fff"/>
<rect x="56.07" y="630.04" width="2.80" height="3.46" fill="#fff"/>
<rect x="60.32" y="630.04" width="2.51" height="3.46" fill="#fff"/>
<rect x="210.11" y="679.94" width="2.80" height="3.46" fill="#fff"/>
<rect x="214.36" y="679.94" width="2.51" height="3.46" fill="#fff"/>
<rect x="384.98" y="292.74" width="2.80" height="3.46" fill="#fff"/>
<rect x="389.23" y="292.74" width="2.51" height="3.46" fill="#fff"/>
<rect x="384.98" y="309.48" width="2.80" height="3.46" fill="#fff"/>
<rect x="389.23" y="309.48" width="2.51" height="3.46" fill="#fff"/>
<rect x="476.85" y="309.48" width="2.80" height="3.46" fill="#fff"/>
<rect x="481.11" y="309.48" width="2.51" height="3.46" fill="#fff"/>
<rect x="380.18" y="326.22" width="2.80" height="3.46" fill="#fff"/>
<rect x="384.43" y="326.22" width="2.51" height="3.46" fill="#fff"/>
<rect x="380.18" y="342.96" width="2.80" height="3.46" fill="#fff"/>
<rect x="384.43" y="342.96" width="2.51" height="3.46" fill="#fff"/>
<rect x="476.85" y="342.96" width="2.80" height="3.46" fill="#fff"/>
<rect x="481.11" y="342.96" width="2.51" height="3.46" fill="#fff"/>
<rect x="380.18" y="359.70" width="2.80" height="3.46" fill="#fff"/>
<rect x="384.43" y="359.70" width="2.51" height="3.46" fill="#fff"/>
<rect x="380.18" y="376.44" width="2.80" height="3.46" fill="#fff"/>
<rect x="384.43" y="376.44" width="2.51" height="3.46" fill="#fff"/>
<rect x="380.18" y="392.88" width="2.80" height="3.46" fill="#fff"/>
<rect x="384.43" y="392.88" width="2.51" height="3.46" fill="#fff"/>
<rect x="396.17" y="392.88" width="2.80" height="3.46" fill="#fff"/>
<rect x="400.42" y="392.88" width="2.51" height="3.46" fill="#fff"/>
<rect x="476.85" y="392.88" width="2.80" height="3.46" fill="#fff"/>
<rect x="481.11" y="392.88" width="2.51" height="3.46" fill="#fff"/>
<rect x="380.18" y="409.92" width="2.80" height="3.46" fill="#fff"/>
<rect x="384.43" y="409.92" width="2.51" height="3.46" fill="#fff"/>
<rect x="320.47" y="425.86" width="2.80" height="3.46" fill="#fff"/>
<rect x="324.72" y="425.86" width="2.51" height="3.46" fill="#fff"/>
<rect x="396.17" y="459.64" width="2.80" height="3.46" fill="#fff"/>
<rect x="400.42" y="459.64" width="2.51" height="3.46" fill="#fff"/>
<rect x="476.85" y="459.64" width="2.80" height="3.46" fill="#fff"/>
<rect x="481.11" y="459.64" width="2.51" height="3.46" fill="#fff"/>
<rect x="476.85" y="492.62" width="2.80" height="3.46" fill="#fff"/>
<rect x="481.11" y="492.62" width="2.51" height="3.46" fill="#fff"/>
<rect x="391.37" y="510.06" width="2.80" height="3.46" fill="#fff"/>
<rect x="395.62" y="510.06" width="2.51" height="3.46" fill="#fff"/>
<rect x="386.57" y="527.10" width="2.80" height="3.46" fill="#fff"/>
<rect x="390.82" y="527.10" width="2.51" height="3.46" fill="#fff"/>
<rect x="381.78" y="577.32" width="2.80" height="3.46" fill="#fff"/>
<rect x="386.03" y="577.32" width="2.51" height="3.46" fill="#fff"/>
<rect x="396.11" y="638.74" width="2.80" height="3.46" fill="#fff"/>
<rect x="400.36" y="638.74" width="2.51" height="3.46" fill="#fff"/>
<rect x="412.11" y="638.74" width="2.80" height="3.46" fill="#fff"/>
<rect x="416.36" y="638.74" width="2.51" height="3.46" fill="#fff"/>
</svg>
</body></html>
